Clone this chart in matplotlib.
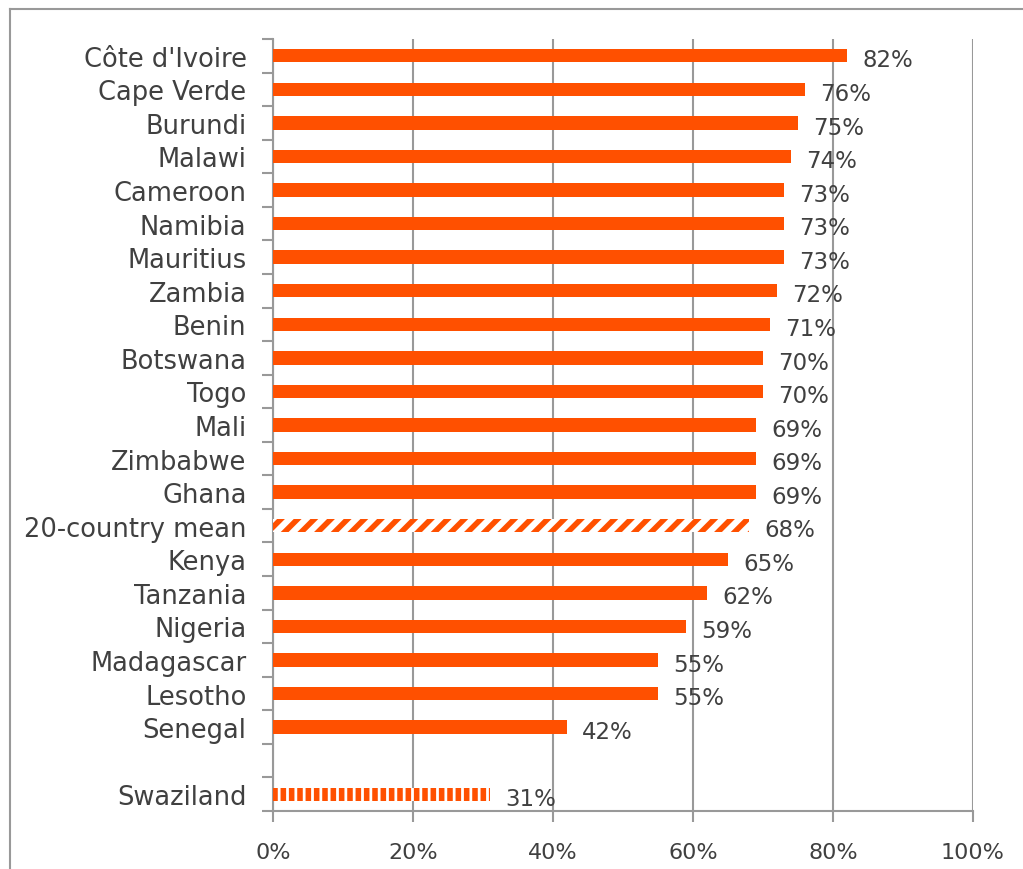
import numpy as np
import matplotlib
matplotlib.use('Agg')
import matplotlib.pyplot as plt
from matplotlib.lines import Line2D

countries = ["Côte d'Ivoire", "Cape Verde", "Burundi", "Malawi", "Cameroon",
             "Namibia", "Mauritius", "Zambia", "Benin", "Botswana", "Togo",
             "Mali", "Zimbabwe", "Ghana", "20-country mean", "Kenya",
             "Tanzania", "Nigeria", "Madagascar", "Lesotho", "Senegal",
             "", "Swaziland"]
values = [82, 76, 75, 74, 73, 73, 73, 72, 71, 70, 70, 69, 69, 69, 68,
          65, 62, 59, 55, 55, 42, None, 31]
xticks = [0, 20, 40, 60, 80, 100]

orange = "#FF5000"
grey = "#999999"
text_col = "#404040"

plt.rcParams['font.family'] = ['DejaVu Sans']

fig = plt.figure(figsize=(10.23, 8.70), dpi=100)
ax = fig.add_axes([273 / 1023, (870 - 812) / 870, 700 / 1023, (812 - 40) / 870])

n = len(countries)
ypos = np.arange(n)

for i, (name, v) in enumerate(zip(countries, values)):
  if v is None:
    continue
  if name == "20-country mean":
    with plt.rc_context({'hatch.linewidth': 4.0}):
      ax.barh(i, v, height=0.4, color="white", edgecolor=orange, hatch="//", linewidth=0, zorder=3)
  elif name == "Swaziland":
    with plt.rc_context({'hatch.linewidth': 2.0}):
      ax.barh(i, v, height=0.4, color=orange, edgecolor="white", hatch="||", linewidth=0, zorder=3)
  else:
    ax.barh(i, v, height=0.4, color=orange, linewidth=0, zorder=3)
  ax.annotate("{0}%".format(v), (v, i), xytext=(11, -3), textcoords="offset points",
              va="center", ha="left", fontsize=16.5, color=text_col, zorder=4)

ax.set_xlim(0, 100)
ax.set_ylim(n - 0.5, -0.5)
ax.set_xticks(xticks)
ax.set_xticklabels(["{0}%".format(t) for t in xticks], fontsize=16, color=text_col)
ax.set_yticks(ypos)
ax.set_yticklabels(countries, fontsize=18.5, color=text_col)
ax.set_yticks(np.arange(n + 1) - 0.5, minor=True)
ax.tick_params(axis="y", which="major", length=0, pad=19)
ax.tick_params(axis="y", which="minor", length=8, width=1.5, color=grey, direction="out")
ax.tick_params(axis="x", length=8, width=1.5, color=grey, pad=14)

ax.grid(True, axis="x", color=grey, linewidth=1.5, zorder=0)
for side in ["top", "right"]:
  ax.spines[side].set_visible(False)
for side in ["left", "bottom"]:
  ax.spines[side].set_color(grey)
  ax.spines[side].set_linewidth(1.5)

# outer frame (top and left edges)
fig.add_artist(Line2D([10 / 1023, 1.01], [1 - 10 / 870] * 2, color=grey, linewidth=1.5))
fig.add_artist(Line2D([10 / 1023] * 2, [-0.01, 1 - 10 / 870], color=grey, linewidth=1.5))

plt.savefig("out.png", dpi=100)
